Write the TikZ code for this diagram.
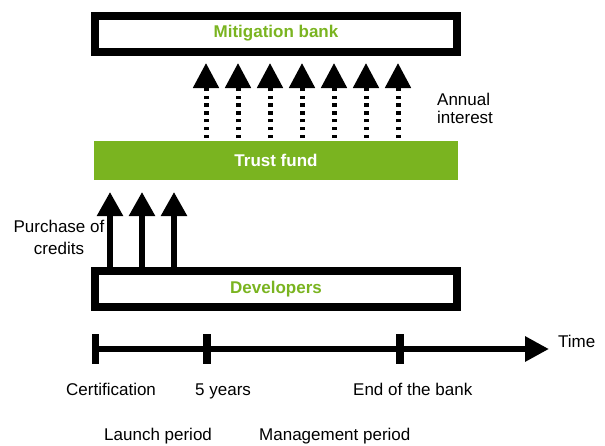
\documentclass[tikz,border=0pt]{standalone}
\usepackage{fontspec}
\setmainfont{Liberation Sans}
\usetikzlibrary{positioning,arrows.meta}
\definecolor{bankgreen}{RGB}{122,180,32}

\begin{document}
\begin{tikzpicture}[x=1pt, y=-1pt,
	font=\fontsize{17}{20}\selectfont,
	box/.style={draw, line width=8pt, minimum width=362pt, minimum height=36pt,
		inner sep=0pt, text=bankgreen, font=\fontsize{17}{20}\selectfont\bfseries},
	fund/.style={fill=bankgreen, minimum width=364pt, minimum height=39pt,
		inner sep=0pt, outer sep=0pt, text=white, font=\fontsize{17}{20}\selectfont\bfseries},
	purchase/.style={line width=5.5pt, -{Triangle[width=25pt,length=24pt]}, shorten >=12pt},
	interest/.style={line width=5pt, dash pattern=on 3.5pt off 4.3pt,
		-{Triangle[width=25pt,length=25pt]}, shorten <=3pt, shorten >=7.5pt},
	timeline/.style={line width=6pt, -{Triangle[width=24pt,length=24pt]}},
	tick/.style={line width=7.5pt},
	lbl/.style={anchor=base west, inner sep=0pt}
]
\useasboundingbox (0,0) rectangle (605,445);

% Mitigation bank
\node [box] (bank) at (276,33.5) {Mitigation bank};

% Trust fund
\node [fund, below = 85.5pt of bank] (trust) {Trust fund};

% Developers
\node [box, below = 87pt of trust] (developers) {Developers};

% Arrows
\foreach \i in {0,...,6}
	\draw[interest] ([xshift={112pt+32pt*\i}]trust.north west) -- ([xshift={112pt+32pt*\i}]trust.north west |- bank.south);
\foreach \i in {0,1,2}
	\draw[purchase] ([xshift={19pt+32pt*\i}]developers.north west) -- ([xshift={19pt+32pt*\i}]developers.north west |- trust.south);

\node [anchor=north west, align=left, inner sep=0pt] (annual) at (437,93) {Annual\\[-2pt]interest};
\node [anchor=north, align=center, inner sep=0pt] (credits) at (59,220) {Purchase of\\[2pt]credits};

% Time line
\coordinate (cert) at (95.5,349);
\coordinate (fiveyears) at (207,349);
\coordinate (endbank) at (400,349);
\coordinate (timeend) at (549,349);

\draw[timeline] (cert) -- (timeend);
\foreach \t in {cert,fiveyears,endbank}
	\draw[tick] ([yshift=15pt]\t) -- ([yshift=-15pt]\t);

\node [lbl] (time) at (558,347) {Time};
\node [lbl] (certlabel) at (66,395) {Certification};
\node [lbl] (fivelabel) at (195,395) {5 years};
\node [lbl] (endlabel) at (353,395) {End of the bank};
\node [lbl] (launch) at (104,440) {Launch period};
\node [lbl] (management) at (259,440) {Management period};

\end{tikzpicture}
\end{document}
